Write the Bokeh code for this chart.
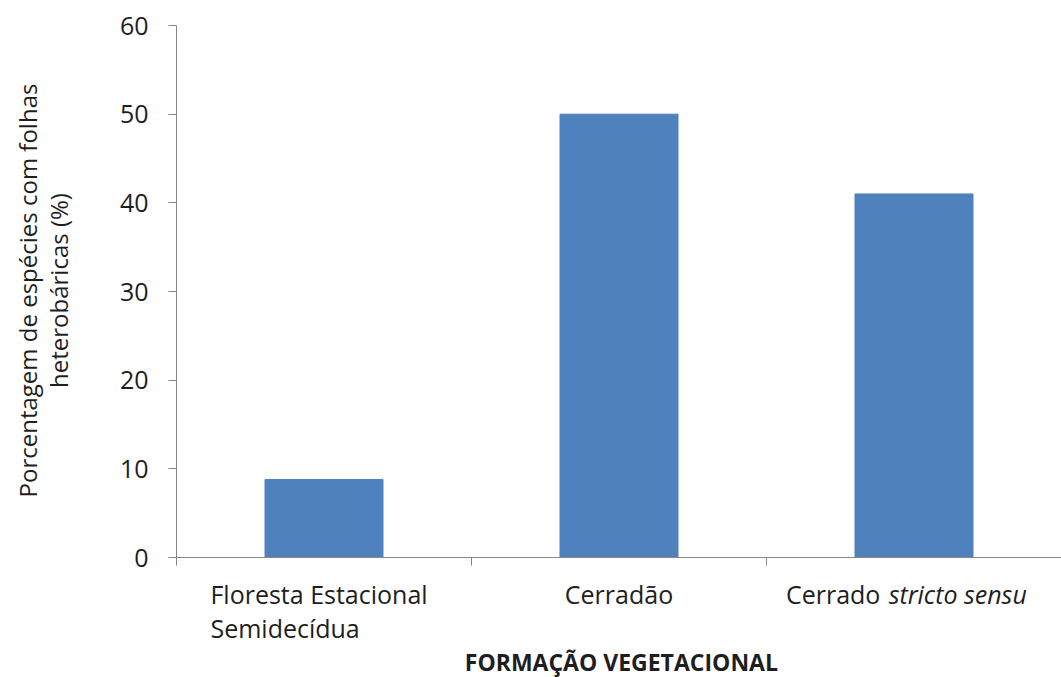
from bokeh.plotting import figure
from bokeh.layouts import row, column
from bokeh.models import Range1d, FixedTicker
from bokeh.core.properties import value
from bokeh.embed import file_html
from bokeh.resources import INLINE
import math

categories = ["Floresta Estacional\nSemidecídua", "Cerradão", "Cerrado"]
italic_suffix = ["", "", "stricto sensu"]
values = [8.8, 50.0, 41.0]
y_ticks = [0, 10, 20, 30, 40, 50, 60]
y_title = ["Porcentagem de espécies com folhas", "heterobáricas (%)"]
x_title = "FORMAÇÃO VEGETACIONAL"

FONT = "Open Sans"
TXT = "#1e1e1e"
AX = "#868686"
FS = "25px"

xr = Range1d(0, len(categories))
xc = [i + 0.5 for i in range(len(categories))]


def bare(fig):
    fig.outline_line_color = None
    fig.xgrid.visible = False
    fig.ygrid.visible = False
    fig.background_fill_color = "white"
    fig.border_fill_color = "white"
    return fig


# ---- main chart ----
p = bare(figure(width=981, height=577, output_backend="svg", toolbar_location=None,
                x_range=xr, y_range=Range1d(0, 60),
                min_border_left=96, min_border_right=0, min_border_top=25, min_border_bottom=20))
p.vbar(x=xc, top=values, width=0.4, color="#4F81BD")

p.yaxis.ticker = FixedTicker(ticks=y_ticks)
p.yaxis.axis_line_color = AX
p.yaxis.major_tick_line_color = AX
p.yaxis.major_tick_out = 8
p.yaxis.major_tick_in = 0
p.yaxis.minor_tick_line_color = None
p.yaxis.major_label_text_font = FONT
p.yaxis.major_label_text_font_size = "25px"
p.yaxis.major_label_text_color = TXT
p.yaxis.major_label_standoff = 20

p.xaxis.ticker = FixedTicker(ticks=list(range(len(categories) + 1)))
p.xaxis.major_label_overrides = {i: "" for i in range(len(categories) + 1)}
p.xaxis.major_label_text_font_size = "0px"
p.xaxis.major_label_standoff = 0
p.xaxis.axis_line_color = AX
p.xaxis.major_tick_line_color = AX
p.xaxis.major_tick_out = 8
p.xaxis.major_tick_in = 0
p.xaxis.minor_tick_line_color = None

# ---- bottom strip: category labels + x title ----
b = bare(figure(width=981, height=100, output_backend="svg", toolbar_location=None,
                x_range=xr, y_range=Range1d(100, 0),
                min_border_left=96, min_border_right=0, min_border_top=0, min_border_bottom=0))
b.xaxis.visible = False
b.yaxis.visible = False
common = dict(text_font=value(FONT), text_font_size=value(FS), text_color=TXT, text_baseline="middle")
for i, (c, it) in enumerate(zip(categories, italic_suffix)):
    if it:
        b.text(x=[xc[i] - 0.114], y=[16], text=[c], text_align="right", **common)
        b.text(x=[xc[i] - 0.086], y=[16], text=[it], text_align="left", text_font_style="italic", **common)
    elif "\n" in c:
        for j, ln in enumerate(c.split("\n")):
            b.text(x=[xc[i] - 0.385], y=[16 + 34 * j], text=[ln], text_align="left", **common)
    else:
        b.text(x=[xc[i]], y=[16], text=[c], text_align="center", **common)
b.text(x=[len(categories) / 2 + 0.008], y=[84], text=[x_title], text_align="center",
       text_font_style="bold", text_font=value(FONT), text_font_size=value("23px"),
       text_color=TXT, text_baseline="alphabetic")

# ---- left strip: y title ----
l = bare(figure(width=80, height=677, output_backend="svg", toolbar_location=None,
                x_range=Range1d(0, 80), y_range=Range1d(677, 0),
                min_border_left=0, min_border_right=0, min_border_top=0, min_border_bottom=0))
l.xaxis.visible = False
l.yaxis.visible = False
for j, t in enumerate(y_title):
    l.text(x=[27 + 31 * j], y=[290], text=[t], text_align="center", angle=math.pi / 2,
           text_font=value(FONT), text_font_size=value("24px"), text_color=TXT, text_baseline="middle")

layout = row(l, column(p, b, spacing=0), spacing=0)
open("out.html", "w").write(file_html(layout, INLINE))
